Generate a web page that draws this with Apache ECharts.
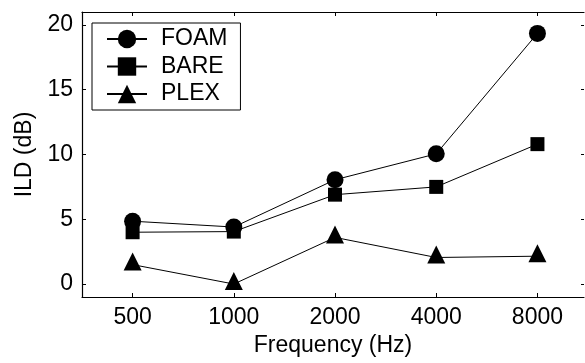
<!DOCTYPE html>
<html>
<head>
<meta charset="utf-8">
<script src="https://cdn.jsdelivr.net/npm/echarts@6/dist/echarts.min.js"></script>
<style>
  html, body { margin: 0; padding: 0; background: #fff; }
  #chart { width: 585px; height: 363px; }
</style>
</head>
<body>
<div id="chart"></div>
<script>
// frequency bands (Hz) and ILD per ear condition (dB)
const freqs = ["500", "1000", "2000", "4000", "8000"];
const foam = [4.85, 4.4, 8.05, 10.05, 19.35];
const bare = [4.0, 4.05, 6.9, 7.5, 10.8];
const plex = [1.5, 0.0, 3.6, 2.05, 2.15];
const yTicks = [0, 5, 10, 15, 20];

const FONT = "'Liberation Sans', Arial, Helvetica, sans-serif";
const INK = "#000";
const FS = 23;

// bands sit at positions 1..5 on a value axis so the right spine can fall off the picture
const xPos = freqs.map((_, i) => i + 1);
const pts = (vals) => vals.map((v, i) => [xPos[i], v]);

const chart = echarts.init(document.getElementById("chart"), null, { renderer: "canvas" });

const line = (name, data, symbol, size, offset) => ({
  name, type: "line", data: pts(data),
  symbol, symbolSize: size, symbolOffset: offset || [0, 0],
  showSymbol: true, animation: false,
  lineStyle: { color: INK, width: 1 },
  itemStyle: { color: INK },
  emphasis: { disabled: true },
});

const xBase = {
  type: "value", min: 0.5, max: 5.46,
  axisLine: { onZero: false, lineStyle: { color: INK, width: 1.2 } },
  axisTick: { inside: true, length: 4, customValues: xPos, lineStyle: { color: INK } },
  splitLine: { show: false },
};
const yBase = {
  type: "value", min: -1, max: 21,
  axisLine: { show: true, onZero: false, lineStyle: { color: INK, width: 1.2 } },
  axisTick: { show: true, inside: true, length: 4, customValues: yTicks, lineStyle: { color: INK } },
  splitLine: { show: false },
};

chart.setOption({
  backgroundColor: "#fff",
  textStyle: { fontFamily: FONT },
  grid: { left: 82, top: 12, right: 1, bottom: 66 },
  legend: {
    orient: "vertical", left: 92, top: 23,
    borderColor: INK, borderWidth: 1,
    padding: [4.5, 13, 4.5, 14],
    itemWidth: 40, itemHeight: 23, itemGap: 4.5,
    textStyle: { color: INK, fontSize: FS, fontFamily: FONT, padding: [0, 0, 0, 9] },
    data: ["FOAM", "BARE", "PLEX"],
  },
  xAxis: [
    Object.assign({}, xBase, {
      position: "bottom",
      name: "Frequency (Hz)", nameLocation: "middle", nameGap: 34,
      nameTextStyle: { color: INK, fontSize: FS, fontFamily: FONT },
      axisLabel: {
        color: INK, fontSize: FS, fontFamily: FONT, margin: 9, customValues: xPos,
        formatter: (v) => freqs[Math.round(v) - 1] || "",
      },
    }),
    Object.assign({}, xBase, { position: "top", axisLabel: { show: false } }),
  ],
  yAxis: [
    Object.assign({}, yBase, {
      position: "left",
      name: "ILD (dB)", nameLocation: "middle", nameGap: 40,
      nameTextStyle: { color: INK, fontSize: FS, fontFamily: FONT },
      axisLabel: { color: INK, fontSize: FS, fontFamily: FONT, margin: 9, customValues: yTicks },
    }),
    Object.assign({}, yBase, {
      position: "right",
      axisLine: { show: false },
      axisTick: { show: true, inside: true, length: 3, customValues: yTicks, lineStyle: { color: INK } },
      axisLabel: { show: false },
    }),
  ],
  series: [
    line("FOAM", foam, "circle", 17),
    line("BARE", bare, "rect", 14),
    line("PLEX", plex, "triangle", 18, [0, -3]),
  ],
});
</script>
</body>
</html>
